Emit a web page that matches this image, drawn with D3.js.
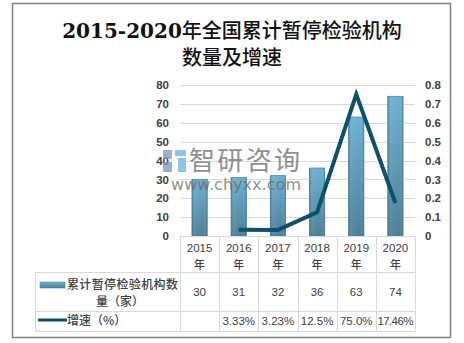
<!DOCTYPE html>
<html><head><meta charset="utf-8">
<script src="https://cdn.jsdelivr.net/npm/d3@7"></script>
<style>html,body{margin:0;padding:0;background:#fff;}svg{display:block;}</style>
</head><body>
<script>
const categories = ["2015", "2016", "2017", "2018", "2019", "2020"];
const countValues = [30, 31, 32, 36, 63, 74];
const growthValues = [null, 0.0333, 0.0323, 0.125, 0.75, 0.1746];
const growthLabels = ["", "3.33%", "3.23%", "12.5%", "75.0%", "17.46%"];
const leftTicks = [0, 10, 20, 30, 40, 50, 60, 70, 80];
const rightTicks = [0, 0.1, 0.2, 0.3, 0.4, 0.5, 0.6, 0.7, 0.8];
const seriesNames = ["累计暂停检验机构数量（家）", "增速（%）"];
const titleLines = ["2015-2020年全国累计暂停检验机构", "数量及增速"];

const W = 464, H = 343;
const svg = d3.select("body").append("svg").attr("width", W).attr("height", H);

// outer frame
svg.append("rect").attr("x", 12.5).attr("y", 3.5).attr("width", 438).attr("height", 334)
  .attr("fill", "#fff").attr("stroke", "#808080").attr("stroke-width", 1.5);

// title: ASCII runs in DejaVu Serif, CJK runs in Noto Sans CJK
const titleG = svg.append("g");
titleLines.forEach((t, i) => {
  const te = titleG.append("text").attr("x", 232).attr("y", 38 + i * 27)
    .attr("text-anchor", "middle").attr("font-size", 20).attr("fill", "#111");
  const runs = t.match(/[\x00-\x7F]+|[^\x00-\x7F]+/g);
  runs.forEach(r => {
    const ascii = /^[\x00-\x7F]+$/.test(r);
    te.append("tspan").text(r)
      .attr("font-family", ascii ? "'DejaVu Serif', serif" : "'Noto Sans CJK SC', sans-serif")
      .attr("font-weight", ascii ? "bold" : 500);
  });
});

const plotL = 180, plotR = 415, plotT = 85, plotB = 236;
const x = d3.scaleBand().domain(categories).range([plotL, plotR]).padding(0);
const yL = d3.scaleLinear().domain([0, 80]).range([plotB, plotT]);
const yR = d3.scaleLinear().domain([0, 0.8]).range([plotB, plotT]);

// gridlines
svg.append("g").selectAll("line").data(leftTicks).join("line")
  .attr("x1", plotL).attr("x2", plotR)
  .attr("y1", d => Math.round(yL(d)) + 0.5).attr("y2", d => Math.round(yL(d)) + 0.5)
  .attr("stroke", "#d9d9d9").attr("stroke-width", 1);

const axisFont = "'Liberation Sans', Arial, sans-serif";
// left axis
const gL = svg.append("g").attr("transform", `translate(${plotL},0)`)
  .call(d3.axisLeft(yL).tickValues(leftTicks).tickSize(0).tickPadding(11));
gL.select(".domain").remove();
gL.selectAll("text").attr("font-family", axisFont).attr("font-size", 11.5)
  .attr("font-weight", "bold").attr("fill", "#404040");
// right axis
const gR = svg.append("g").attr("transform", `translate(${plotR},0)`)
  .call(d3.axisRight(yR).tickValues(rightTicks).tickSize(0).tickPadding(10)
    .tickFormat(d => d === 0 ? "0" : d3.format(".1f")(d)));
gR.select(".domain").remove();
gR.selectAll("text").attr("font-family", axisFont).attr("font-size", 11.5)
  .attr("font-weight", "bold").attr("fill", "#404040");

// gradients for bars
const defs = svg.append("defs");
const grad = defs.append("linearGradient").attr("id", "barGrad")
  .attr("x1", 0).attr("y1", 0).attr("x2", 0).attr("y2", 1);
grad.append("stop").attr("offset", "0%").attr("stop-color", "#6cb0d2");
grad.append("stop").attr("offset", "100%").attr("stop-color", "#4b7e96");
const gradH = defs.append("linearGradient").attr("id", "barGradH")
  .attr("x1", 0).attr("y1", 0).attr("x2", 1).attr("y2", 0);
gradH.append("stop").attr("offset", "0%").attr("stop-color", "#1d4a5e").attr("stop-opacity", 0.35);
gradH.append("stop").attr("offset", "25%").attr("stop-color", "#fff").attr("stop-opacity", 0.05);
gradH.append("stop").attr("offset", "75%").attr("stop-color", "#fff").attr("stop-opacity", 0.0);
gradH.append("stop").attr("offset", "100%").attr("stop-color", "#1d4a5e").attr("stop-opacity", 0.3);

const barW = x.bandwidth() * 0.39;
const bars = svg.append("g");
bars.selectAll("rect.b").data(countValues).join("rect").attr("class", "b")
  .attr("x", (d, i) => x(categories[i]) + (x.bandwidth() - barW) / 2)
  .attr("y", d => yL(d)).attr("width", barW).attr("height", d => plotB - yL(d))
  .attr("fill", "url(#barGrad)").attr("stroke", "#4d88a4").attr("stroke-width", 0.8);
bars.selectAll("rect.s").data(countValues).join("rect").attr("class", "s")
  .attr("x", (d, i) => x(categories[i]) + (x.bandwidth() - barW) / 2)
  .attr("y", d => yL(d)).attr("width", barW).attr("height", d => plotB - yL(d))
  .attr("fill", "url(#barGradH)");

// line
const pts = growthValues.map((v, i) => [categories[i], v]).filter(p => p[1] !== null);
const line = d3.line().x(p => x(p[0]) + x.bandwidth() / 2).y(p => yR(p[1]));
svg.append("path").datum(pts).attr("d", line).attr("fill", "none")
  .attr("stroke", "#0d5168").attr("stroke-width", 4).attr("stroke-linejoin", "miter");

// watermark
const wm = svg.append("g").attr("opacity", 0.75);
wm.append("rect").attr("x", 163).attr("y", 150).attr("width", 9).attr("height", 9).attr("fill", "#7f93bf");
wm.append("rect").attr("x", 163).attr("y", 162).attr("width", 9).attr("height", 10).attr("fill", "#7f93bf");
wm.append("rect").attr("x", 175).attr("y", 150).attr("width", 11).attr("height", 6).attr("fill", "#6bb1de");
wm.append("rect").attr("x", 178).attr("y", 158).attr("width", 8).attr("height", 14).attr("fill", "#6bb1de");
wm.append("text").attr("x", 189).attr("y", 170).attr("font-family", "'Noto Sans CJK SC', sans-serif")
  .attr("font-size", 26).attr("fill", "#6a6a6a").attr("textLength", 111).text("智研咨询");
wm.append("text").attr("x", 171).attr("y", 190).attr("font-family", "'DejaVu Sans', sans-serif")
  .attr("font-size", 16).attr("fill", "#6a6a6a").attr("textLength", 130).text("www.chyxx.com");

// table
const tL = 35, rowY = [236, 272, 311, 331];
const tg = svg.append("g").attr("stroke", "#d9d9d9").attr("stroke-width", 1);
tg.append("line").attr("x1", plotL).attr("x2", plotR).attr("y1", rowY[0] + 0.5).attr("y2", rowY[0] + 0.5);
[rowY[1], rowY[2], rowY[3]].forEach(y => tg.append("line").attr("x1", tL).attr("x2", plotR).attr("y1", y + 0.5).attr("y2", y + 0.5));
tg.append("line").attr("x1", tL + 0.5).attr("x2", tL + 0.5).attr("y1", rowY[1]).attr("y2", rowY[3]);
const colEdges = categories.map(c => x(c)).concat([plotR]);
colEdges.forEach(cx => tg.append("line").attr("x1", Math.round(cx) + 0.5).attr("x2", Math.round(cx) + 0.5)
  .attr("y1", rowY[0]).attr("y2", rowY[3]));

const cellFont = "'Liberation Sans', 'Noto Sans CJK SC', sans-serif";
const txt = svg.append("g").attr("font-family", cellFont).attr("font-size", 11.5).attr("fill", "#404040")
  .attr("text-anchor", "middle");
categories.forEach((c, i) => {
  const cx = x(c) + x.bandwidth() / 2;
  txt.append("text").attr("x", cx).attr("y", 252).text(c);
  txt.append("text").attr("x", cx).attr("y", 269).attr("font-family", "'Noto Sans CJK SC', sans-serif").attr("font-size", 11).attr("font-weight", 500).text("年");
  txt.append("text").attr("x", cx).attr("y", 296).text(countValues[i]);
  txt.append("text").attr("x", cx).attr("y", 325).attr("textLength", growthLabels[i].length > 5 ? 36 : null).text(growthLabels[i]);
});

// legend cells
svg.append("rect").attr("x", 40).attr("y", 282).attr("width", 25).attr("height", 6)
  .attr("fill", "url(#barGrad)").attr("stroke", "#4d88a4").attr("stroke-width", 0.6);
svg.append("line").attr("x1", 38).attr("x2", 67).attr("y1", 320).attr("y2", 320)
  .attr("stroke", "#0d5168").attr("stroke-width", 3);
const lf = "'Noto Sans CJK SC', sans-serif";
svg.append("text").attr("x", 67).attr("y", 289).attr("font-family", lf).attr("font-size", 12).attr("font-weight", 500)
  .attr("fill", "#404040").attr("textLength", 111).text(seriesNames[0].slice(0, 9));
svg.append("text").attr("x", 120).attr("y", 306).attr("font-family", lf).attr("font-size", 12).attr("font-weight", 500)
  .attr("fill", "#404040").attr("text-anchor", "middle").text(seriesNames[0].slice(9));
svg.append("text").attr("x", 67).attr("y", 325).attr("font-family", lf).attr("font-size", 12).attr("font-weight", 500)
  .attr("fill", "#404040").text(seriesNames[1]);
</script>
</body></html>
